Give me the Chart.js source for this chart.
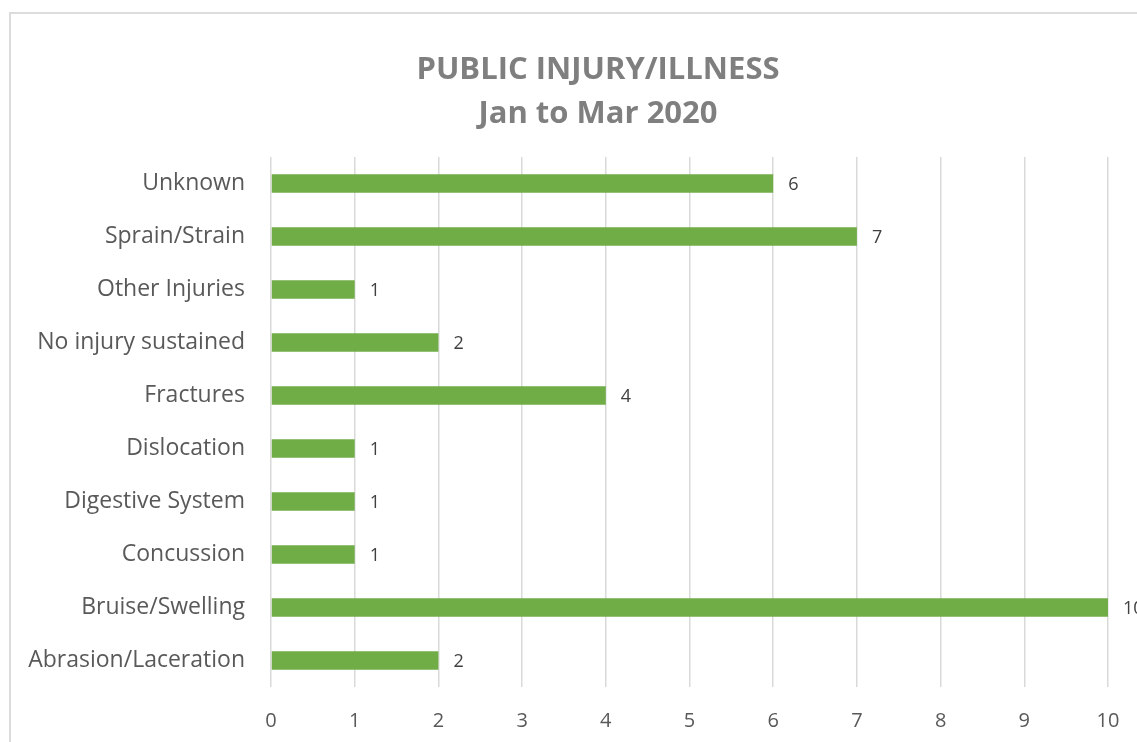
<!DOCTYPE html>
<html>
<head>
<meta charset="utf-8">
<script src="https://cdn.jsdelivr.net/npm/chart.js@4/dist/chart.umd.min.js"></script>
<style>
  html, body { margin: 0; padding: 0; background: #fff; overflow: hidden; }
  #frame { position: absolute; left: 9px; top: 12px; width: 1300px; height: 900px; border: 2px solid #dcdcdc; box-sizing: border-box; }
  #wrap { position: absolute; left: 0; top: 0; width: 1137px; height: 742px; }
</style>
</head>
<body>
<div id="frame"></div>
<div id="wrap"><canvas id="c" width="1137" height="742"></canvas></div>
<script>
const categories = ["Unknown", "Sprain/Strain", "Other Injuries", "No injury sustained", "Fractures", "Dislocation", "Digestive System", "Concussion", "Bruise/Swelling", "Abrasion/Laceration"];
const counts = [6, 7, 1, 2, 4, 1, 1, 1, 10, 2];
const titleLines = ["PUBLIC INJURY/ILLNESS", "Jan to Mar 2020"];
const xTicks = [0, 1, 2, 3, 4, 5, 6, 7, 8, 9, 10];

const FONT = "'Open Sans', 'Segoe UI', sans-serif";

const valueLabels = {
  id: 'valueLabels',
  afterDatasetsDraw(chart) {
    const ctx = chart.ctx;
    const meta = chart.getDatasetMeta(0);
    ctx.save();
    ctx.font = "18px " + FONT;
    ctx.fillStyle = "#404040";
    ctx.textAlign = "left";
    ctx.textBaseline = "middle";
    meta.data.forEach((bar, i) => {
      ctx.fillText(String(counts[i]), bar.x + 15, bar.y + 1);
    });
    ctx.restore();
  }
};

// Title centred over the full (wider, cropped) chart object, as in the reference
const offsetTitle = {
  id: 'offsetTitle',
  afterDraw(chart) {
    const ctx = chart.ctx;
    ctx.save();
    ctx.font = "bold 31px " + FONT;
    ctx.fillStyle = "#7f7f7f";
    ctx.textAlign = "center";
    ctx.textBaseline = "middle";
    titleLines.forEach((t, i) => ctx.fillText(t, 598, 70.5 + i * 43.5));
    ctx.restore();
  }
};

new Chart(document.getElementById('c'), {
  type: 'bar',
  data: {
    labels: categories,
    datasets: [{
      data: counts,
      backgroundColor: '#70AD47',
      borderWidth: 0,
      categoryPercentage: 1,
      barPercentage: 0.35
    }]
  },
  options: {
    indexAxis: 'y',
    responsive: false,
    animation: false,
    devicePixelRatio: 1,
    layout: { padding: { left: 0, right: 29, top: 157, bottom: 0 } },
    plugins: {
      legend: { display: false },
      tooltip: { enabled: false },
      title: { display: false }
    },
    scales: {
      x: {
        min: 0,
        max: 10,
        afterBuildTicks(scale) { scale.ticks = xTicks.map(v => ({ value: v })); },
        afterFit(scale) { scale.height = 55; scale.paddingRight = 0; scale.paddingLeft = 0; },
        ticks: { color: '#595959', font: { family: FONT, size: 20 }, padding: 22, maxRotation: 0 },
        grid: { color: '#d9d9d9', lineWidth: 1.5, drawTicks: false },
        border: { display: false }
      },
      y: {
        afterFit(scale) { scale.width = 271; scale.paddingTop = 0; scale.paddingBottom = 0; },
        ticks: { color: '#595959', font: { family: FONT, size: 23 }, padding: 26 },
        grid: { display: false, drawTicks: false },
        border: { display: false }
      }
    }
  },
  plugins: [valueLabels, offsetTitle]
});
</script>
</body>
</html>
